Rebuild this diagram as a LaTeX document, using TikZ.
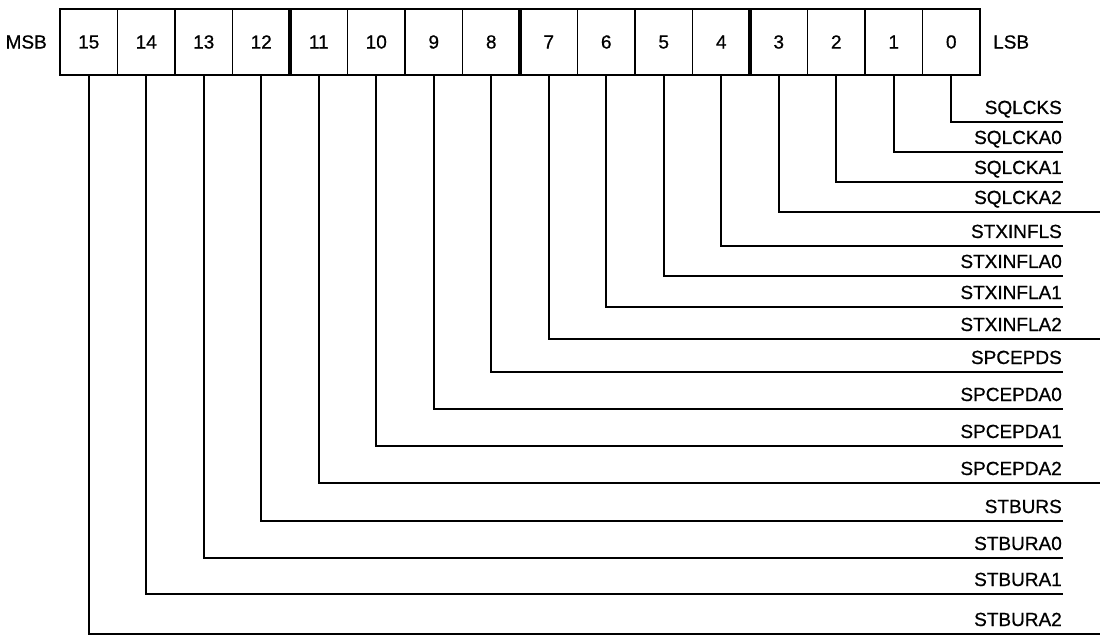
\documentclass[tikz,border=0pt]{standalone}
\usepackage{fontspec}
\setmainfont{Liberation Sans}
\newfontfamily\regfont{Liberation Sans}[FakeBold=0.7]
\usetikzlibrary{positioning}

\begin{document}
\begin{tikzpicture}[
  x=1pt,y=-1pt,
  txt/.style={font=\regfont\fontsize{19}{21}\selectfont,inner sep=0pt},
  cell/.style={txt,draw,line width=1.8pt,outer sep=0pt,minimum width=57.5pt,minimum height=66pt},
  tag/.style={txt,anchor=base east},
  wire/.style={line width=1.8pt}
]
\useasboundingbox (0,0) rectangle (1105,636);
% register cells
\foreach \i in {0,...,15}
  \node[cell] (b\i) at ({60+57.5*(15.5-\i)},42) {\i};
\foreach \i in {3,7,11}
  \draw[line width=4pt] (b\i.north west) -- (b\i.south west);
\node[txt,left=13pt of b15] (msb) {MSB};
\node[txt,right=13pt of b0] (lsb) {LSB};
% bit fields
\foreach \i/\name/\y in {0/SQLCKS/122,1/SQLCKA0/152,2/SQLCKA1/182,3/SQLCKA2/212,
    4/STXINFLS/246,5/STXINFLA0/276,6/STXINFLA1/307,7/STXINFLA2/339,
    8/SPCEPDS/372,9/SPCEPDA0/409,10/SPCEPDA1/446,11/SPCEPDA2/483,
    12/STBURS/521,13/STBURA0/558,14/STBURA1/594,15/STBURA2/634}{
  \pgfmathsetmacro\xend{mod(\i,4)==3 ? 1100 : 1063}
  \coordinate (e\i) at (\xend,\y);
  \draw[wire] (b\i.south) |- (e\i);
  \node[tag] (t\i) at (1062,\y-8) {\name};
}
\end{tikzpicture}
\end{document}
